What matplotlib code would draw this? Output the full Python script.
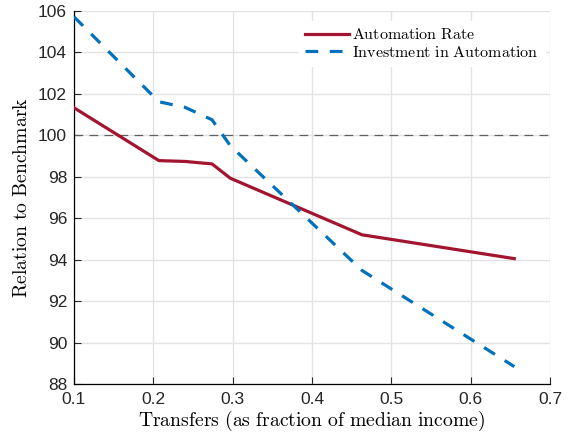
import numpy as np
import matplotlib.pyplot as plt

plt.rcParams['mathtext.fontset'] = 'cm'
plt.rcParams['font.family'] = 'Liberation Sans'

# transfers (fraction of median income)
transfers = [0.1, 0.207, 0.24, 0.274, 0.297, 0.463, 0.655]
automation_rate = [101.33, 98.78, 98.74, 98.62, 97.93, 95.2, 94.05]
automation_invest = [105.72, 101.62, 101.35, 100.75, 99.5, 93.48, 88.84]

xticks = [0.1, 0.2, 0.3, 0.4, 0.5, 0.6, 0.7]
yticks = [88, 90, 92, 94, 96, 98, 100, 102, 104, 106]

fig = plt.figure(figsize=(5.74, 4.41), dpi=100)
ax = fig.add_axes([74 / 574, 57 / 441, 476 / 574, 373 / 441])

ax.axhline(100, color='#606060', lw=0.9, ls=(0, (7, 5)), zorder=1)
ax.plot(transfers, automation_rate, color='#a2142f', lw=2.3,
        label=r'$\mathrm{Automation\ Rate}$', zorder=3)
ax.plot(transfers, automation_invest, color='#0072bd', lw=2.3,
        ls=(0, (4, 3.6)), label=r'$\mathrm{Investment\ in\ Automation}$', zorder=3)

ax.set_xlim(0.1, 0.7)
ax.set_ylim(88, 106)
ax.set_xticks(xticks)
ax.set_yticks(yticks)
ax.set_xticklabels(['%g' % t for t in xticks])
ax.grid(True, color='#e3e3e3', lw=1.0)
ax.set_axisbelow(True)

for s in ['top', 'right']:
    ax.spines[s].set_visible(False)
for s in ['left', 'bottom']:
    ax.spines[s].set_linewidth(0.9)
ax.tick_params(direction='in', length=5, width=0.8, labelsize=12.5,
               colors='#262626', pad=6)
ax.tick_params(axis='y', pad=5)

ax.set_xlabel(r'$\mathrm{Transfers\ (as\ fraction\ of\ median\ income)}$',
              fontsize=14.2, labelpad=1)
ax.set_ylabel(r'$\mathrm{Relation\ to\ Benchmark}$', fontsize=14.2, labelpad=5)

leg = ax.legend(loc='upper right', bbox_to_anchor=(1.006, 0.995), frameon=True,
                fontsize=11.5, handlelength=2.75, handletextpad=0.2,
                borderpad=0.4, labelspacing=0.15, fancybox=False)
leg.get_frame().set_edgecolor('white')
leg.get_frame().set_facecolor('white')
leg.get_frame().set_alpha(1)

fig.savefig('out.png', dpi=100)
